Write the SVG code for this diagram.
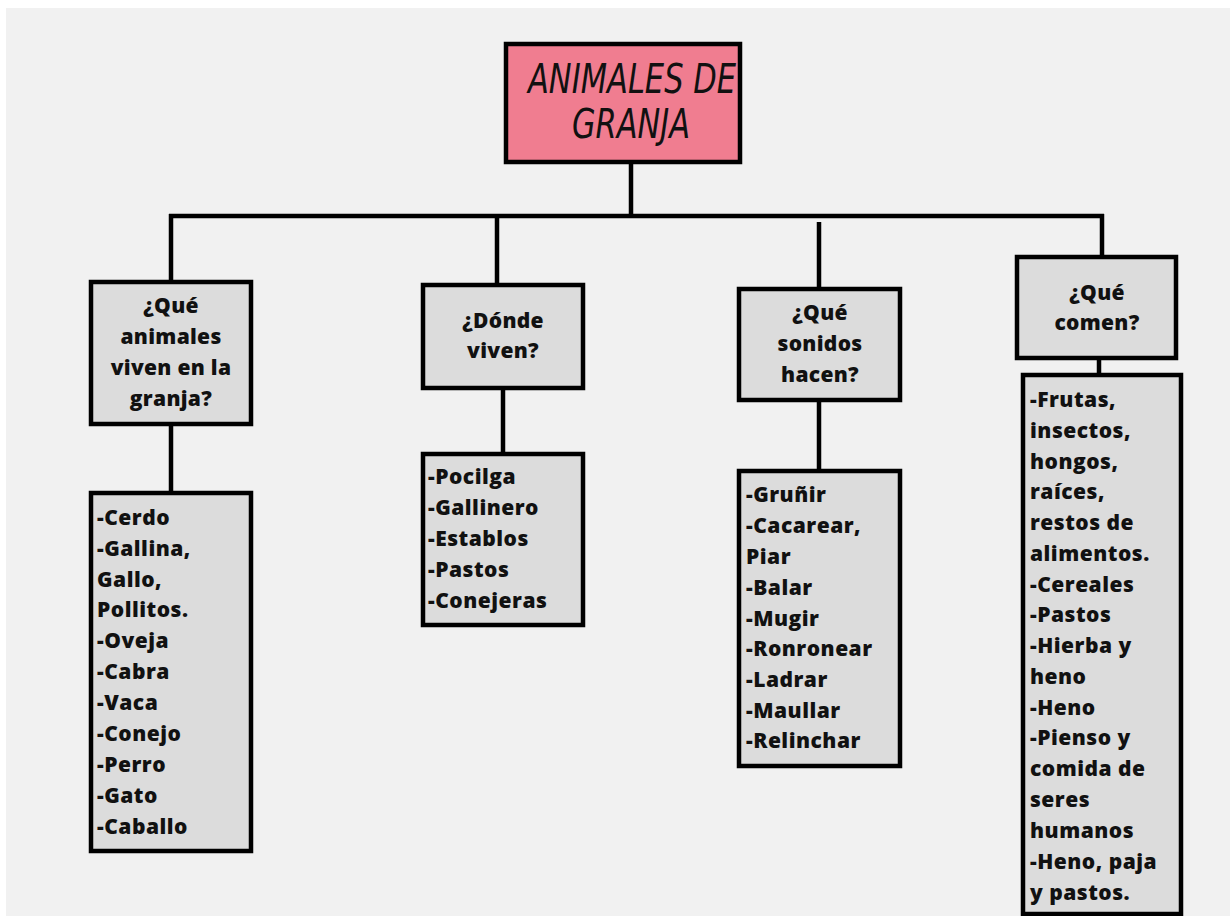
<svg xmlns="http://www.w3.org/2000/svg" width="1230" height="916" viewBox="0 0 1230 916">
<style>
.box{fill:#dcdcdc;stroke:#000;stroke-width:4.5}
.title{fill:#f07d90;stroke:#000;stroke-width:4.5}
.q{font-family:"Open Sans","DejaVu Sans",sans-serif;font-weight:800;font-size:21px;fill:#111;text-anchor:middle;letter-spacing:0.3px}
.l{font-family:"Open Sans","DejaVu Sans",sans-serif;font-weight:800;font-size:21px;fill:#111;letter-spacing:0.5px}
.t{font-family:"DejaVu Sans Condensed","Liberation Sans Narrow",sans-serif;font-style:italic;font-size:40px;fill:#111;text-anchor:middle}
.c{stroke:#000;stroke-width:4.5;fill:none}
</style>
<rect x="0" y="0" width="1230" height="916" fill="#ffffff"/>
<rect x="6" y="8" width="1224" height="908" fill="#f1f1f1"/>
<g id="connectors">
<line class="c" x1="631" y1="164" x2="631" y2="216"/>
<line class="c" x1="169" y1="216" x2="1104" y2="216"/>
<line class="c" x1="171" y1="214" x2="171" y2="280"/>
<line class="c" x1="497" y1="216" x2="497" y2="283"/>
<line class="c" x1="819" y1="222" x2="819" y2="287"/>
<line class="c" x1="1102" y1="214" x2="1102" y2="255"/>
<line class="c" x1="171" y1="426" x2="171" y2="491"/>
<line class="c" x1="503" y1="390" x2="503" y2="452"/>
<line class="c" x1="819" y1="402" x2="819" y2="469"/>
<line class="c" x1="1099" y1="360" x2="1099" y2="373"/>
</g>
<g id="title">
<rect class="title" x="506" y="44" width="234" height="118"/>
<text class="t" x="632" y="93" textLength="208" lengthAdjust="spacingAndGlyphs">ANIMALES DE</text>
<text class="t" x="631" y="138" textLength="118" lengthAdjust="spacingAndGlyphs">GRANJA</text>
</g>
<g id="q1">
<rect class="box" x="91" y="282" width="160" height="142"/>
<text class="q" x="171" y="313">¿Qué</text>
<text class="q" x="171" y="344">animales</text>
<text class="q" x="171" y="375">viven en la</text>
<text class="q" x="171" y="406">granja?</text>
</g>
<g id="q2">
<rect class="box" x="423" y="285" width="160" height="103"/>
<text class="q" x="503" y="328">¿Dónde</text>
<text class="q" x="503" y="358">viven?</text>
</g>
<g id="q3">
<rect class="box" x="739" y="289" width="161" height="111"/>
<text class="q" x="820" y="320">¿Qué</text>
<text class="q" x="820" y="351">sonidos</text>
<text class="q" x="820" y="382">hacen?</text>
</g>
<g id="q4">
<rect class="box" x="1017" y="257" width="159" height="101"/>
<text class="q" x="1097" y="300">¿Qué</text>
<text class="q" x="1097" y="330">comen?</text>
</g>
<g id="a1">
<rect class="box" x="91" y="493" width="160" height="358"/>
<text class="l" x="97" y="525">-Cerdo</text>
<text class="l" x="97" y="556">-Gallina,</text>
<text class="l" x="97" y="587">Gallo,</text>
<text class="l" x="97" y="617">Pollitos.</text>
<text class="l" x="97" y="648">-Oveja</text>
<text class="l" x="97" y="679">-Cabra</text>
<text class="l" x="97" y="710">-Vaca</text>
<text class="l" x="97" y="741">-Conejo</text>
<text class="l" x="97" y="772">-Perro</text>
<text class="l" x="97" y="803">-Gato</text>
<text class="l" x="97" y="834">-Caballo</text>
</g>
<g id="a2">
<rect class="box" x="423" y="454" width="160" height="171"/>
<text class="l" x="428" y="484">-Pocilga</text>
<text class="l" x="428" y="515">-Gallinero</text>
<text class="l" x="428" y="546">-Establos</text>
<text class="l" x="428" y="577">-Pastos</text>
<text class="l" x="428" y="608">-Conejeras</text>
</g>
<g id="a3">
<rect class="box" x="739" y="471" width="161" height="295"/>
<text class="l" x="746" y="502">-Gruñir</text>
<text class="l" x="746" y="533">-Cacarear,</text>
<text class="l" x="746" y="564">Piar</text>
<text class="l" x="746" y="595">-Balar</text>
<text class="l" x="746" y="626">-Mugir</text>
<text class="l" x="746" y="656">-Ronronear</text>
<text class="l" x="746" y="687">-Ladrar</text>
<text class="l" x="746" y="718">-Maullar</text>
<text class="l" x="746" y="748">-Relinchar</text>
</g>
<g id="a4">
<rect class="box" x="1023" y="375" width="158" height="539"/>
<text class="l" x="1030" y="407">-Frutas,</text>
<text class="l" x="1030" y="438">insectos,</text>
<text class="l" x="1030" y="469">hongos,</text>
<text class="l" x="1030" y="499">raíces,</text>
<text class="l" x="1030" y="530">restos de</text>
<text class="l" x="1030" y="561">alimentos.</text>
<text class="l" x="1030" y="592">-Cereales</text>
<text class="l" x="1030" y="622">-Pastos</text>
<text class="l" x="1030" y="653">-Hierba y</text>
<text class="l" x="1030" y="684">heno</text>
<text class="l" x="1030" y="715">-Heno</text>
<text class="l" x="1030" y="745">-Pienso y</text>
<text class="l" x="1030" y="776">comida de</text>
<text class="l" x="1030" y="807">seres</text>
<text class="l" x="1030" y="838">humanos</text>
<text class="l" x="1030" y="869">-Heno, paja</text>
<text class="l" x="1030" y="900">y pastos.</text>
</g>
</svg>
